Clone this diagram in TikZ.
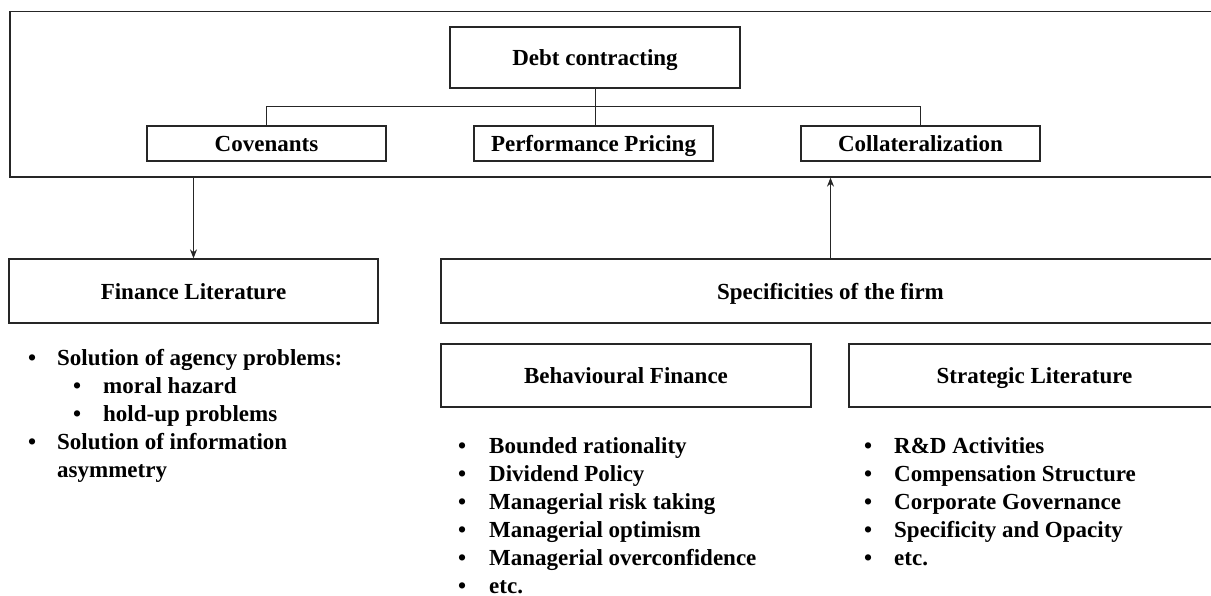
\documentclass[tikz,border=0pt]{standalone}
\usepackage{fontspec}
\setmainfont{Liberation Serif}
\usetikzlibrary{arrows.meta}
\begin{document}
\begin{tikzpicture}[x=1pt,y=-1pt,
  font=\fontsize{23}{28}\selectfont\bfseries,
  box/.style={draw=black!85, line width=1.3pt, inner sep=0pt, align=center,
    text height=19.5pt, text depth=3pt},
  link/.style={draw=black!85, line width=1pt},
  arr/.style={link, -{Stealth[length=9pt,width=7pt]}},
  txt/.style={anchor=base west, inner sep=0pt},
  dot/.style={anchor=base west, inner sep=0pt}]
\useasboundingbox (0,0) rectangle (1211,596);
\fill[white] (0,0) rectangle (1211,596);
\clip (0,0) rectangle (1211,596);

% upper frame holding the contracting mechanisms
\node[box, minimum width=1212pt, minimum height=165.5pt] (frame) at (616,94.25) {};
\node[box, minimum width=290pt, minimum height=61pt] (debt) at (595,57.5) {Debt contracting};
\node[box, minimum width=239pt, minimum height=35pt] (cov) at (266.5,143.5) {Covenants};
\node[box, minimum width=239pt, minimum height=35pt] (pp) at (593.5,143.5) {Performance Pricing};
\node[box, minimum width=239pt, minimum height=35pt] (coll) at (920.5,143.5) {Collateralization};

\coordinate (bus) at (266.5,107);
\draw[link] (debt.south) -- (debt.south |- pp.north);
\draw[link] (cov.north) -- (bus) -- (bus -| coll.north) -- (coll.north);

% literature boxes
\node[box, minimum width=369pt, minimum height=64pt] (fin) at (193.5,291) {Finance Literature};
\node[box, minimum width=779pt, minimum height=64pt] (spec) at (830.5,291) {Specificities of the firm};
\node[box, minimum width=370pt, minimum height=63pt] (beh) at (626,375.5) {Behavioural Finance};
\node[box, minimum width=371pt, minimum height=63pt] (strat) at (1034.5,375.5) {Strategic Literature};

\draw[arr] (fin.north |- frame.south) -- (fin.north);
\draw[arr] (spec.north) -- (spec.north |- frame.south);

% finance literature items
\node[dot] (fb1) at (28,365) {•};
\node[txt] (ft1) at (57,365) {Solution of agency problems:};
\node[dot] (fb2) at (73,393) {•};
\node[txt] (ft2) at (103,393) {moral hazard};
\node[dot] (fb3) at (73,421) {•};
\node[txt] (ft3) at (103,421) {hold-up problems};
\node[dot] (fb4) at (28,449) {•};
\node[txt] (ft4) at (57,449) {Solution of information};
\node[txt] (ft5) at (57,477) {asymmetry};

% behavioural finance items
\foreach \t [count=\i] in {Bounded rationality, Dividend Policy, Managerial risk taking,
    Managerial optimism, Managerial overconfidence, etc.} {
  \node[dot] (bb\i) at (458,{453+28*(\i-1)}) {•};
  \node[txt] (bt\i) at (489,{453+28*(\i-1)}) {\t};
}

% strategic literature items
\foreach \t [count=\i] in {R\&D Activities, Compensation Structure, Corporate Governance,
    Specificity and Opacity, etc.} {
  \node[dot] (sb\i) at (864,{453+28*(\i-1)}) {•};
  \node[txt] (st\i) at (894,{453+28*(\i-1)}) {\t};
}
\end{tikzpicture}
\end{document}
